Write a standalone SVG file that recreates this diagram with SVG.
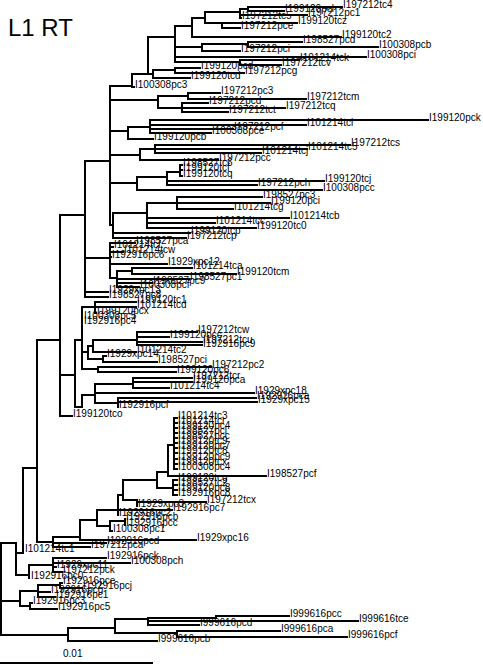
<svg xmlns="http://www.w3.org/2000/svg" width="483" height="665" viewBox="0 0 483 665">
<style>
.t{font-family:"Liberation Sans",Arial,sans-serif;font-size:10px;fill:#000}
.e{fill:none;stroke:#000;stroke-width:2;stroke-linecap:square}
</style>
<rect width="483" height="665" fill="#fff"/>
<text x="8" y="36" style="font-family:'Liberation Sans',Arial,sans-serif;font-size:24px">L1 RT</text>
<g id="connectors">
<path class="e" d="M85 161H110M110 86V225M110 86H132M132 74V87M132 87H134M132 74H148M148 37V74M148 74H153M153 70V78M153 70H175M175 68V73M175 68H200M175 73H244M153 78H190M148 37H175M175 26V62M175 26H192M192 18V37M192 18H205M205 12V23M205 12H240M240 9V18M240 9H248M248 7V11M248 7H342M248 11H284M240 15H307M240 18H241M205 23H222M222 23V28M222 23H297M222 28H240M192 37H341M175 47H202M202 44V51M202 44H248M248 42V47M248 42H302M248 47H378M202 51H240M175 57H366M175 62H240M240 60V65M240 60H299M240 65H281M110 100H158M158 96V108M158 96H188M188 93V99M188 93H220M188 99H306M158 108H182M182 103V112M182 103H208M182 108H285M182 112H228M110 131H128M128 127V139M128 127H150M150 120V133M150 120H428M150 125H306M150 129H233M150 133H211M128 139H153M110 155H140M140 149V160M140 149H155M155 145V153M155 145H350M155 149H307M155 153H261M140 160H218M110 183H137M137 177V190M137 177H167M167 172V185M167 172H180M180 165V176M180 165H182M180 170H182M180 176H182M167 181H324M167 185H257M137 190H322M110 225H113M113 213V238M113 213H147M147 203V228M147 203H177M177 197V209M177 197H262M177 203H270M177 209H233M147 218H289M147 223H215M147 228H256M113 233H190M113 238H186"/>
<path class="e" d="M85 161V297M85 258H110M110 243V278M110 243H135M110 247H113M110 252H123M110 257H111M110 264H167M110 278H117M117 271V287M117 271H132M132 268V274M132 268H192M132 274H236M117 279H189M117 283H152M117 287H139M85 292H108M85 297H108M82 307H95M95 302V313M95 302H136M95 307H136M95 313H96M82 307V369M60 215H85M60 215V416M60 416H72M60 375H75M75 340V407M75 340H82M75 407H82M82 395V407M82 352H88M88 346V359M88 346H93M93 340V352M93 340H137M137 332V345M137 332H197M137 337H169M137 342H202M137 345H202M93 352H136M88 359H103M103 356V362M103 356H106M103 362H157M82 369H98M98 367V372M98 367H211M98 372H176M82 395H95M95 384V403M95 384H133M133 378V388M133 378H192M133 382H192M133 388H169M95 393H254M95 403H118M118 398V407M118 398H256M118 402H257"/>
<path class="e" d="M37 340V542M37 340H60M23 468V553M23 468H37M37 542H53M53 537V547M53 537H80M80 520V540M80 540H196M53 543H106M53 547H90M80 520H97M97 510V526M97 510H118M118 495V515M118 495H123M123 480V500M123 480H157M157 472V488M157 472H168M168 445V476M168 445H174M174 418V469M174 418H177M174 423H177M174 428H177M174 433H177M174 438H177M174 443H177M174 448H177M174 453H177M174 459H177M174 464H177M174 469H177M168 476H266M157 488H173M173 480V495M173 480H177M173 485H177M173 490H177M173 495H177M123 500H137M137 500V506M137 502H206M118 510H172M97 526H110M110 521V531M110 521H125M125 519V525M110 531H112"/>
<path class="e" d="M16 543V575M16 553H23M16 575H29M29 565V578M29 565H53M53 558V572M53 558H106M53 563H130M53 567H56M53 572H62M1 543V635M1 543H16M1 601H20M20 591V606M20 591H38M38 585V597M38 585H60M60 583V588M60 583H62M60 588H82M38 592H50M38 597H55M20 606H30M30 603V609M30 603H32M30 609H57M1 635H68M68 628V641M68 628H115M115 619V633M115 619H148M148 618V625M148 618H216M216 616V618M216 616H289M148 621H358M148 625H199M115 633H177M177 631V637M177 631H280M177 637H347M68 641H157"/>
<path class="e" d="M0 663H152"/>
</g>
<text class="t" x="63" y="657">0.01</text>
<g id="n001"><text class="t" x="343" y="8">I197212tc4</text></g>
<g id="n002"><text class="t" x="285" y="12">I199120pcl</text></g>
<g id="n003"><text class="t" x="308" y="16">I197212pc1</text></g>
<g id="n004"><text class="t" x="242" y="19">I197212tc5</text></g>
<g id="n005"><text class="t" x="298" y="24">I199120tcz</text></g>
<g id="n006"><text class="t" x="241" y="29">I197212pce</text></g>
<g id="n007"><text class="t" x="342" y="38">I199120tc2</text></g>
<g id="n008"><text class="t" x="303" y="43">I198527pcd</text></g>
<g id="n009"><text class="t" x="379" y="48">I100308pcb</text></g>
<g id="n010"><text class="t" x="241" y="52">I197212pci</text></g>
<g id="n011"><text class="t" x="367" y="58">I100308pci</text></g>
<g id="n012"><text class="t" x="300" y="61">I101214tck</text></g>
<g id="n013"><text class="t" x="282" y="66">I197212tcv</text></g>
<g id="n014"><text class="t" x="201" y="69">I199120pcd</text></g>
<g id="n015"><text class="t" x="245" y="74">I197212pcg</text></g>
<g id="n016"><text class="t" x="191" y="79">I199120tcd</text></g>
<g id="n017"><text class="t" x="135" y="88">I100308pc3</text></g>
<g id="n018"><text class="t" x="221" y="94">I197212pc3</text></g>
<g id="n019"><text class="t" x="307" y="100">I197212tcm</text></g>
<g id="n020"><text class="t" x="209" y="104">I197212pcd</text></g>
<g id="n021"><text class="t" x="286" y="109">I197212tcq</text></g>
<g id="n022"><text class="t" x="229" y="113">I197212tct</text></g>
<g id="n023"><text class="t" x="429" y="121">I199120pck</text></g>
<g id="n024"><text class="t" x="307" y="126">I101214tci</text></g>
<g id="n025"><text class="t" x="234" y="130">I197212pcf</text></g>
<g id="n026"><text class="t" x="212" y="134">I100308pce</text></g>
<g id="n027"><text class="t" x="154" y="140">I199120pcb</text></g>
<g id="n028"><text class="t" x="351" y="146">I197212tcs</text></g>
<g id="n029"><text class="t" x="308" y="150">I101214tc5</text></g>
<g id="n030"><text class="t" x="262" y="154">I101214tcj</text></g>
<g id="n031"><text class="t" x="219" y="161">I197212pcc</text></g>
<g id="n032"><text class="t" x="183" y="166">I198527tc6</text></g>
<g id="n033"><text class="t" x="183" y="171">I199120tcf</text></g>
<g id="n034"><text class="t" x="183" y="177">I199120tcq</text></g>
<g id="n035"><text class="t" x="325" y="182">I199120tcj</text></g>
<g id="n036"><text class="t" x="258" y="186">I197212pch</text></g>
<g id="n037"><text class="t" x="323" y="191">I100308pcc</text></g>
<g id="n038"><text class="t" x="263" y="198">I198527pc3</text></g>
<g id="n039"><text class="t" x="271" y="204">I199120pci</text></g>
<g id="n040"><text class="t" x="234" y="210">I101214tcg</text></g>
<g id="n041"><text class="t" x="290" y="219">I101214tcb</text></g>
<g id="n042"><text class="t" x="216" y="224">I101214tcc</text></g>
<g id="n043"><text class="t" x="257" y="229">I199120tc0</text></g>
<g id="n044"><text class="t" x="191" y="234">I199120tcp</text></g>
<g id="n045"><text class="t" x="187" y="239">I197212tcp</text></g>
<g id="n046"><text class="t" x="136" y="244">I198527pca</text></g>
<g id="n047"><text class="t" x="114" y="248">I101214tcf</text></g>
<g id="n048"><text class="t" x="124" y="253">I101214tcw</text></g>
<g id="n049"><text class="t" x="112" y="258">I192916pc6</text></g>
<g id="n050"><text class="t" x="168" y="265">I1929xpc12</text></g>
<g id="n051"><text class="t" x="193" y="269">I101214tca</text></g>
<g id="n052"><text class="t" x="237" y="275">I199120tcm</text></g>
<g id="n053"><text class="t" x="190" y="280">I198527pc1</text></g>
<g id="n054"><text class="t" x="153" y="284">I198527pc9</text></g>
<g id="n055"><text class="t" x="140" y="288">I100308pcf</text></g>
<g id="n056"><text class="t" x="109" y="293">I1929xpc13</text></g>
<g id="n057"><text class="t" x="109" y="298">I198527pc8</text></g>
<g id="n058"><text class="t" x="137" y="303">I199120tc1</text></g>
<g id="n059"><text class="t" x="137" y="308">I101214tcd</text></g>
<g id="n060"><text class="t" x="97" y="314">I199120pcx</text></g>
<g id="n061"><text class="t" x="84" y="319">I100308pc5</text></g>
<g id="n062"><text class="t" x="84" y="324">I192916pc4</text></g>
<g id="n063"><text class="t" x="198" y="333">I197212tcw</text></g>
<g id="n064"><text class="t" x="170" y="338">I199120pcc</text></g>
<g id="n065"><text class="t" x="203" y="343">I197212tcu</text></g>
<g id="n066"><text class="t" x="203" y="347">I192916pc9</text></g>
<g id="n067"><text class="t" x="137" y="353">I101214tc2</text></g>
<g id="n068"><text class="t" x="107" y="357">I1929xpc14</text></g>
<g id="n069"><text class="t" x="158" y="363">I198527pci</text></g>
<g id="n070"><text class="t" x="212" y="368">I197212pc2</text></g>
<g id="n071"><text class="t" x="177" y="373">I199120pc6</text></g>
<g id="n072"><text class="t" x="193" y="379">I197212tcr</text></g>
<g id="n073"><text class="t" x="193" y="383">I199120pca</text></g>
<g id="n074"><text class="t" x="170" y="389">I101214tc4</text></g>
<g id="n075"><text class="t" x="255" y="394">I1929xpc18</text></g>
<g id="n076"><text class="t" x="257" y="399">I192916pca</text></g>
<g id="n077"><text class="t" x="258" y="403">I1929xpc15</text></g>
<g id="n078"><text class="t" x="119" y="408">I192916pcf</text></g>
<g id="n079"><text class="t" x="73" y="417">I199120tco</text></g>
<g id="n080"><text class="t" x="178" y="419">I101214tc3</text></g>
<g id="n081"><text class="t" x="178" y="424">I101214tcr</text></g>
<g id="n082"><text class="t" x="178" y="429">I199120pc4</text></g>
<g id="n083"><text class="t" x="178" y="434">I198527pcl</text></g>
<g id="n084"><text class="t" x="178" y="439">I198527pcc</text></g>
<g id="n085"><text class="t" x="178" y="444">I199120tc9</text></g>
<g id="n086"><text class="t" x="178" y="449">I199120pc7</text></g>
<g id="n087"><text class="t" x="178" y="454">I199120tc8</text></g>
<g id="n088"><text class="t" x="178" y="460">I199120pc9</text></g>
<g id="n089"><text class="t" x="178" y="465">I199120tcx</text></g>
<g id="n090"><text class="t" x="178" y="470">I100308pc4</text></g>
<g id="n091"><text class="t" x="267" y="477">I198527pcf</text></g>
<g id="n092"><text class="t" x="178" y="481">I199120tcg</text></g>
<g id="n093"><text class="t" x="178" y="486">I198527tc2</text></g>
<g id="n094"><text class="t" x="178" y="491">I199120pc8</text></g>
<g id="n095"><text class="t" x="178" y="496">I192916pc8</text></g>
<g id="n096"><text class="t" x="207" y="503">I197212tcx</text></g>
<g id="n097"><text class="t" x="138" y="507">I1929xpc3</text></g>
<g id="n098"><text class="t" x="173" y="511">I192916pc7</text></g>
<g id="n099"><text class="t" x="119" y="516">I192916pc2</text></g>
<g id="n100"><text class="t" x="126" y="520">I192916pcb</text></g>
<g id="n101"><text class="t" x="126" y="526">I192916pcc</text></g>
<g id="n102"><text class="t" x="113" y="532">I100308pc1</text></g>
<g id="n103"><text class="t" x="197" y="541">I1929xpc16</text></g>
<g id="n104"><text class="t" x="107" y="544">I192916pcd</text></g>
<g id="n105"><text class="t" x="91" y="548">I197212pca</text></g>
<g id="n106"><text class="t" x="25" y="552">I101214tc1</text></g>
<g id="n107"><text class="t" x="107" y="559">I192916pck</text></g>
<g id="n108"><text class="t" x="131" y="564">I100308pch</text></g>
<g id="n109"><text class="t" x="57" y="568">I1929xpc11</text></g>
<g id="n110"><text class="t" x="63" y="573">I197212pck</text></g>
<g id="n111"><text class="t" x="31" y="579">I192916pc0</text></g>
<g id="n112"><text class="t" x="63" y="584">I192916pce</text></g>
<g id="n113"><text class="t" x="83" y="589">I192916pcj</text></g>
<g id="n114"><text class="t" x="51" y="593">I192916pcg</text></g>
<g id="n115"><text class="t" x="56" y="598">I192916pc1</text></g>
<g id="n116"><text class="t" x="33" y="604">I192916pc3</text></g>
<g id="n117"><text class="t" x="58" y="610">I192916pc5</text></g>
<g id="n118"><text class="t" x="290" y="617">I999616pcc</text></g>
<g id="n119"><text class="t" x="359" y="622">I999616tce</text></g>
<g id="n120"><text class="t" x="200" y="626">I999616pcd</text></g>
<g id="n121"><text class="t" x="281" y="632">I999616pca</text></g>
<g id="n122"><text class="t" x="348" y="638">I999616pcf</text></g>
<g id="n123"><text class="t" x="158" y="642">I999616pcb</text></g>
</svg>
